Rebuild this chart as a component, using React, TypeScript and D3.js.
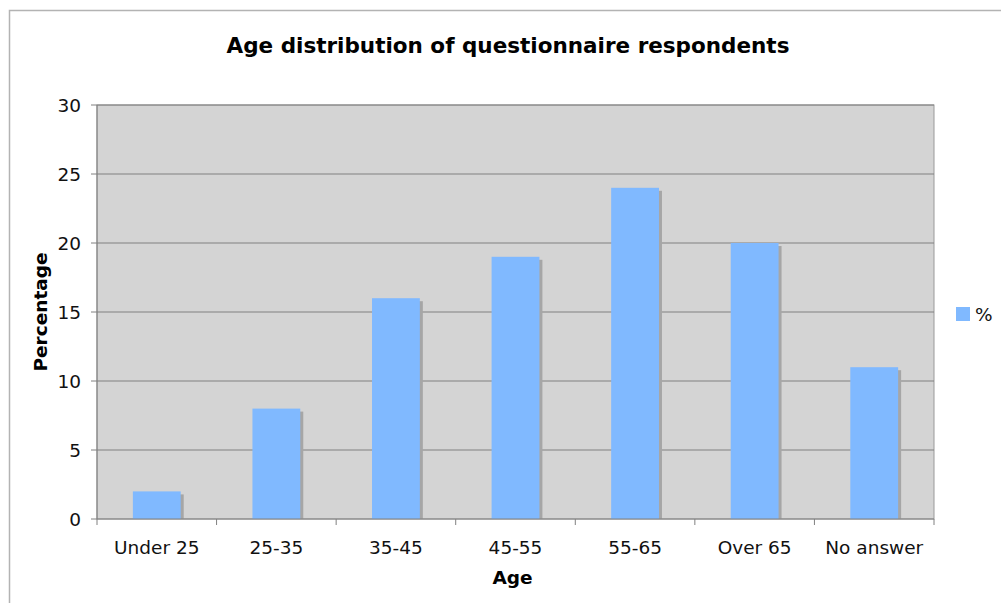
import React, { useEffect, useRef } from 'react';
import * as d3 from 'd3';

const categories = ['Under 25', '25-35', '35-45', '45-55', '55-65', 'Over 65', 'No answer'];
const percentages = [2, 8, 16, 19, 24, 20, 11];
const yTicks = [0, 5, 10, 15, 20, 25, 30];
const seriesName = '%';

const App = () => {
  const svgRef = useRef<SVGSVGElement>(null);

  useEffect(() => {
    const svg = d3.select(svgRef.current);
    svg.selectAll('*').remove();

    const font = 'DejaVu Sans, Verdana, sans-serif';
    const margin = { top: 105, left: 97, right: 934, bottom: 519 };
    const fs = 18.5;

    // outer frame
    svg.append('rect')
      .attr('x', 9.5).attr('y', 10.5)
      .attr('width', 1001).attr('height', 600)
      .attr('fill', 'white')
      .attr('stroke', '#b3b3b3').attr('stroke-width', 1.5);

    const x = d3.scaleBand()
      .domain(categories)
      .range([margin.left, margin.right])
      .paddingInner(0.6)
      .paddingOuter(0.3);

    const band = d3.scaleBand().domain(categories).range([margin.left, margin.right]);

    const y = d3.scaleLinear().domain([0, 30]).range([margin.bottom, margin.top]);

    // plot background
    svg.append('rect')
      .attr('x', margin.left).attr('y', margin.top)
      .attr('width', margin.right - margin.left)
      .attr('height', margin.bottom - margin.top)
      .attr('fill', '#d4d4d4')
      .attr('stroke', '#9a9a9a');

    // gridlines
    svg.append('g')
      .selectAll('line')
      .data(yTicks.filter(t => t > 0))
      .join('line')
        .attr('x1', margin.left).attr('x2', margin.right)
        .attr('y1', d => y(d)).attr('y2', d => y(d))
        .attr('stroke', '#808080').attr('stroke-width', 1);

    // bar shadows
    svg.append('g')
      .selectAll('rect')
      .data(percentages)
      .join('rect')
        .attr('x', (d, i) => x(categories[i])! + 3)
        .attr('y', d => y(d) + 3)
        .attr('width', x.bandwidth())
        .attr('height', d => margin.bottom - y(d) - 3)
        .attr('fill', '#a6a6a6');

    // bars
    svg.append('g')
      .selectAll('rect')
      .data(percentages)
      .join('rect')
        .attr('x', (d, i) => x(categories[i])!)
        .attr('y', d => y(d))
        .attr('width', x.bandwidth())
        .attr('height', d => margin.bottom - y(d))
        .attr('fill', '#80b9ff');

    // axes lines
    svg.append('line')
      .attr('x1', margin.left).attr('x2', margin.right)
      .attr('y1', margin.bottom).attr('y2', margin.bottom)
      .attr('stroke', '#808080');
    svg.append('line')
      .attr('x1', margin.left).attr('x2', margin.left)
      .attr('y1', margin.top).attr('y2', margin.bottom)
      .attr('stroke', '#808080');

    // y ticks
    const yAxis = svg.append('g');
    yAxis.selectAll('line')
      .data(yTicks)
      .join('line')
        .attr('x1', margin.left - 6).attr('x2', margin.left)
        .attr('y1', d => y(d)).attr('y2', d => y(d))
        .attr('stroke', '#808080');
    yAxis.selectAll('text')
      .data(yTicks)
      .join('text')
        .attr('x', 81)
        .attr('y', d => y(d))
        .attr('dy', '0.36em')
        .attr('text-anchor', 'end')
        .attr('font-family', font)
        .attr('font-size', fs)
        .attr('fill', '#111')
        .text(d => d);

    // x ticks
    const ticksX = categories.map(c => band(c)!).concat([margin.right]);
    svg.append('g')
      .selectAll('line')
      .data(ticksX)
      .join('line')
        .attr('x1', d => d).attr('x2', d => d)
        .attr('y1', margin.bottom).attr('y2', margin.bottom + 6)
        .attr('stroke', '#808080');

    svg.append('g')
      .selectAll('text')
      .data(categories)
      .join('text')
        .attr('x', d => band(d)! + band.bandwidth() / 2)
        .attr('y', 554)
        .attr('text-anchor', 'middle')
        .attr('font-family', font)
        .attr('font-size', fs)
        .attr('fill', '#111')
        .text(d => d);

    // title
    svg.append('text')
      .attr('x', 508).attr('y', 53)
      .attr('text-anchor', 'middle')
      .attr('font-family', font)
      .attr('font-weight', 'bold')
      .attr('font-size', 21.5)
      .attr('fill', '#000')
      .text('Age distribution of questionnaire respondents');

    // axis titles
    svg.append('text')
      .attr('x', (margin.left + margin.right) / 2 - 3).attr('y', 584)
      .attr('text-anchor', 'middle')
      .attr('font-family', font)
      .attr('font-weight', 'bold')
      .attr('font-size', fs)
      .attr('fill', '#000')
      .text('Age');

    svg.append('text')
      .attr('transform', `translate(47,${(margin.top + margin.bottom) / 2}) rotate(-90)`)
      .attr('text-anchor', 'middle')
      .attr('font-family', font)
      .attr('font-weight', 'bold')
      .attr('font-size', fs)
      .attr('fill', '#000')
      .text('Percentage');

    // legend
    svg.append('rect')
      .attr('x', 956).attr('y', 307)
      .attr('width', 14).attr('height', 14)
      .attr('fill', '#80b9ff');
    svg.append('text')
      .attr('x', 975).attr('y', 321)
      .attr('font-family', font)
      .attr('font-size', fs)
      .attr('fill', '#111')
      .text(seriesName);
  }, []);

  return (
    <svg
      ref={svgRef}
      width={1001}
      height={603}
      style={{ position: 'absolute', left: 0, top: 0, display: 'block' }}
    />
  );
};

export default App;
